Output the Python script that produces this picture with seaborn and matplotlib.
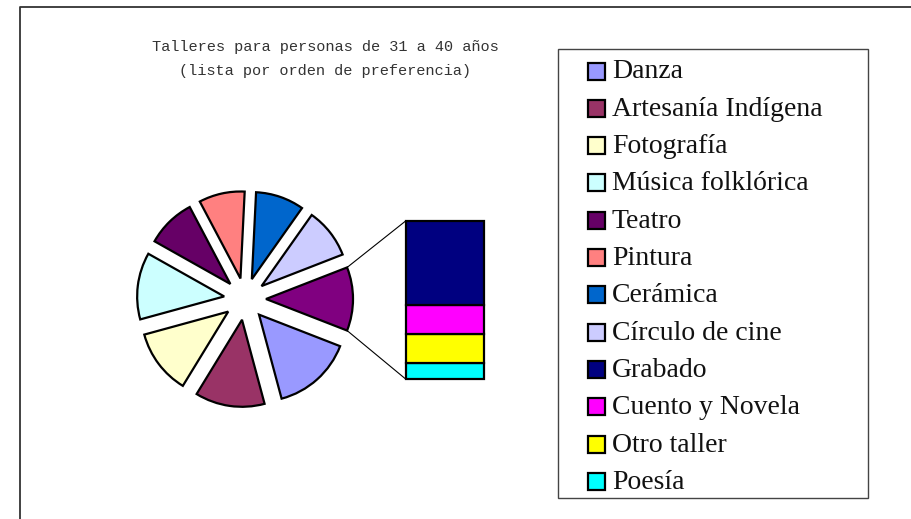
import matplotlib
matplotlib.use("Agg")
import matplotlib.pyplot as plt
from matplotlib.patches import Rectangle
from matplotlib.lines import Line2D
import seaborn as sns
import numpy as np

# ---- data (percent) ----
pie_labels = ["Danza", "Artesanía Indígena", "Fotografía", "Música folklórica",
              "Teatro", "Pintura", "Cerámica", "Círculo de cine"]
pie_values = [14.9, 12.9, 12.0, 12.4, 9.1, 8.5, 9.0, 9.3]
bar_labels = ["Grabado", "Cuento y Novela", "Otro taller", "Poesía"]
bar_values = [6.3, 2.1, 2.2, 1.2]
pie_colors = ["#9999FF", "#993366", "#FFFFCC", "#CCFFFF", "#660066",
              "#FF8080", "#0066CC", "#CCCCFF"]
other_color = "#800080"
bar_colors = ["#000080", "#FF00FF", "#FFFF00", "#00FFFF"]
title = "Talleres para personas de 31 a 40 años\n(lista por orden de preferencia)"

sns.set_theme(style="white")
W, H = 911, 519
fig = plt.figure(figsize=(W / 100, H / 100), dpi=100)
fig.patch.set_facecolor("white")

# main axes in pixel units (y up)
ax = fig.add_axes([0, 0, 1, 1])
ax.set_xlim(0, W)
ax.set_ylim(0, H)
ax.axis("off")

# outer chart border (top & left visible)
ax.add_line(Line2D([20, 20, W], [0, H - 6.5, H - 6.5], color="#333333", lw=1.3))

# ---- pie ----
other_total = sum(bar_values)
vals = pie_values + [other_total]
cols = pie_colors + [other_color]
total = sum(vals)
other_deg = other_total / total * 360
start = -other_deg / 2  # other slice centred on 0 deg
cx, cy, R = 245, H - 299, 87
wedges, _ = ax.pie(vals, colors=cols, startangle=start, counterclock=False,
                   center=(cx, cy), radius=R, explode=[21] * len(vals),
                   wedgeprops=dict(edgecolor="black", linewidth=1.6), frame=True)
ax.set_xlim(0, W)
ax.set_ylim(0, H)
ax.set_aspect("auto")
ax.axis("off")

# ---- stacked bar for "other" ----
bx0, bx1 = 406, 484
by_top, by_bot = 220.7, 379.3
bax = fig.add_axes([bx0 / W, (H - by_bot) / H, (bx1 - bx0) / W, (by_bot - by_top) / H])
bax.set_xlim(-0.5, 0.5)
bax.set_ylim(0, other_total)
bax.axis("off")
bottom = 0
for lab, v, c in reversed(list(zip(bar_labels, bar_values, bar_colors))):
    bax.bar(0, v, bottom=bottom, width=1.0, color=c, edgecolor="black",
            linewidth=1.6, clip_on=False)
    bottom += v

# connector lines from the other wedge to the bar
ow = wedges[-1]
th1, th2 = np.deg2rad(ow.theta1), np.deg2rad(ow.theta2)
ocx, ocy = ow.center
p_top = (ocx + R * np.cos(th2), ocy + R * np.sin(th2))
p_bot = (ocx + R * np.cos(th1), ocy + R * np.sin(th1))
if p_top[1] < p_bot[1]:
    p_top, p_bot = p_bot, p_top
ax.add_line(Line2D([p_top[0], bx0], [p_top[1], H - by_top], color="black", lw=0.8))
ax.add_line(Line2D([p_bot[0], bx0], [p_bot[1], H - by_bot], color="black", lw=0.8))

# ---- title ----
ax.text(325, H - 59, title, ha="center", va="center", fontsize=11,
        family=["Liberation Mono", "DejaVu Sans Mono"], color="#333333",
        linespacing=1.9)

# ---- legend (manual) ----
ax.add_patch(Rectangle((558, H - 498), 868 - 558, 498 - 49, fill=False,
                       edgecolor="#444444", lw=1.0))
leg_labels = pie_labels + bar_labels
leg_colors = pie_colors + bar_colors
y0, dy = 71, 37.3
for i, (lab, c) in enumerate(zip(leg_labels, leg_colors)):
    yy = H - (y0 + i * dy)
    ax.add_patch(Rectangle((588, yy - 8.5), 17, 17, facecolor=c,
                           edgecolor="black", lw=1.6))
    ax.text(612, yy - 1, lab, ha="left", va="center", fontsize=20,
            family=["Liberation Serif", "DejaVu Serif"], color="#111111")

fig.savefig("out.png", dpi=100)
